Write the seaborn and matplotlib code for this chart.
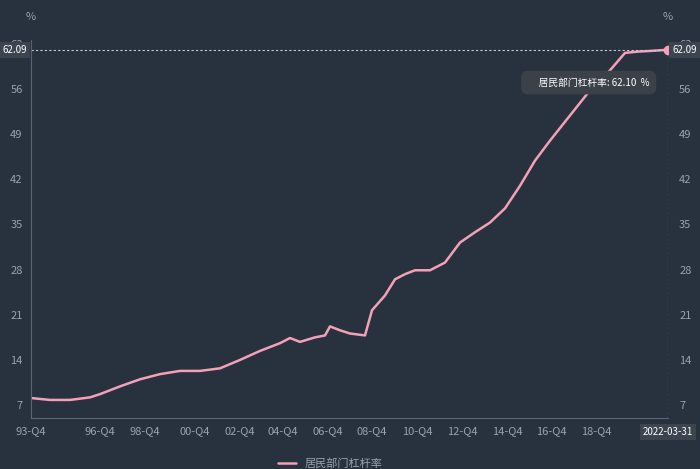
import numpy as np
import pandas as pd
import matplotlib.pyplot as plt
import seaborn as sns

## data (x in axis position units)
x_pos = [0, 19, 39, 59, 69, 89, 109, 129, 149, 169, 189, 209, 229, 249, 259, 269, 284,
         294, 299, 309, 319, 334, 341, 354, 364, 374, 384, 399, 414, 429, 444, 459, 474,
         489, 504, 519, 539, 559, 579, 594, 607, 619, 637]
leverage = [8.1, 7.8, 7.8, 8.2, 8.7, 9.9, 11.0, 11.8, 12.3, 12.3, 12.7, 14.0, 15.4, 16.6,
            17.4, 16.8, 17.5, 17.8, 19.2, 18.6, 18.1, 17.8, 21.7, 24.0, 26.5, 27.3, 27.9,
            27.9, 29.1, 32.2, 33.8, 35.3, 37.5, 41.0, 44.9, 48.0, 51.9, 55.8, 58.9, 61.6,
            61.8, 61.9, 62.09]
tick_pos = [0, 69, 114, 164, 209, 252, 297, 341, 386, 431, 476, 520, 565]
tick_labels = ['93-Q4', '96-Q4', '98-Q4', '00-Q4', '02-Q4', '04-Q4', '06-Q4', '08-Q4',
               '10-Q4', '12-Q4', '14-Q4', '16-Q4', '18-Q4']
series_name = '居民部门杠杆率'
last_value = 62.09

df = pd.DataFrame({'x': x_pos, 'y': leverage})

BG = '#27323e'
PINK = '#f4a0b8'
GREY = '#9aa3ad'

sns.set_style('dark')
plt.rcParams['font.family'] = ['Noto Sans CJK SC', 'DejaVu Sans']

fig = plt.figure(figsize=(7, 4.69), dpi=100, facecolor=BG)
ax = fig.add_axes([31/700, 1 - 418/469, 637/700, (418 - 40)/469])
ax.set_facecolor(BG)
sns.lineplot(data=df, x='x', y='y', ax=ax, color=PINK, lw=1.8, label=series_name)
ax.plot(x_pos[-1], leverage[-1], 'o', color=PINK, markersize=6, zorder=5, clip_on=False)

ax.set_xlim(0, 637)
ax.set_ylim(5, 63.6)
yt = np.arange(7, 64, 7)
ax.set_yticks(yt)
ax.set_xticks(tick_pos)
ax.set_xticklabels(tick_labels)
ax.tick_params(colors=GREY, labelsize=8, length=0, pad=6)
ax.set_xlabel('')
ax.set_ylabel('')
ax.grid(False)
for s in ['top', 'right']:
    ax.spines[s].set_visible(False)
for s in ['left', 'bottom']:
    ax.spines[s].set_visible(True)
    ax.spines[s].set_color('#5a6570')

ax2 = ax.twinx()
ax2.set_ylim(ax.get_ylim())
ax2.set_yticks(yt)
ax2.tick_params(colors=GREY, labelsize=8, length=0, pad=8)
for s in ax2.spines.values():
    s.set_visible(False)

ax.axhline(last_value, color='#c8ccd0', ls=(0, (2, 2)), lw=0.8)
ax.axvline(x_pos[-1], color='#c8ccd0', ls=(0, (2, 2)), lw=0.8)
box = dict(boxstyle='square,pad=0.3', fc='#3c454f', ec='none')
ax.annotate('{0:.2f}'.format(last_value), xy=(0, last_value), xycoords=('axes fraction', 'data'),
            xytext=(-3, 0), textcoords='offset points', ha='right', va='center',
            fontsize=7, color='white', bbox=box, zorder=10)
ax2.annotate('{0:.2f}'.format(last_value), xy=(1, last_value), xycoords=('axes fraction', 'data'),
             xytext=(3, 0), textcoords='offset points', ha='left', va='center',
             fontsize=7, color='white', bbox=box, zorder=10)
ax2.annotate('2022-03-31', xy=(1, 0), xycoords='axes fraction', xytext=(0, -10),
             textcoords='offset points', ha='center', va='center', fontsize=7, color='white', bbox=box)
fig.text(31/700, 1 - 20/469, '%', color=GREY, fontsize=8, ha='center')
fig.text(668/700, 1 - 20/469, '%', color=GREY, fontsize=8, ha='center')

# tooltip
ax2.annotate('     ' + series_name + ': 62.10  %', xy=(497, 57), xycoords='data', ha='left', va='center',
             fontsize=7, color='white',
             bbox=dict(boxstyle='round,pad=0.7', fc='#3a4149', ec='none'))
ax2.plot(506, 57, 'o', color=PINK, markersize=6)

leg = ax.legend(loc='upper center', bbox_to_anchor=(0.47, -0.08), frameon=False,
                fontsize=8, handlelength=1.6)
for t in leg.get_texts():
    t.set_color(GREY)

fig.savefig('out.png', dpi=100, facecolor=BG)
